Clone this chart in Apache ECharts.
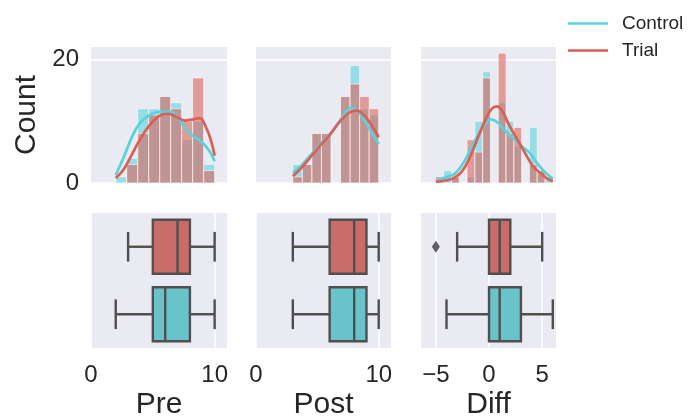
<!DOCTYPE html>
<html><head><meta charset="utf-8">
<script src="https://cdn.jsdelivr.net/npm/echarts@6/dist/echarts.min.js"></script>
<style>html,body{margin:0;padding:0;background:#fff}#c{width:689px;height:418px}</style>
</head><body><div id="c"></div>
<script>
// ---------- data ----------
const groups = ['Control', 'Trial'];
const panelNames = ['Pre', 'Post', 'Diff'];

const preEdges = [2, 2.889, 3.778, 4.667, 5.556, 6.444, 7.333, 8.222, 9.111, 10];
const preCountControl = [1, 4, 12, 12, 14, 13, 7, 10, 3];
const preCountTrial   = [0, 3, 8, 11, 14, 12, 10, 17, 2];

const postEdges = [3, 3.778, 4.556, 5.333, 6.111, 6.889, 7.667, 8.444, 9.222, 10];
const postCountControl = [3, 3, 8, 8, 0, 14, 19, 12, 11];
const postCountTrial   = [1, 3, 8, 8, 0, 14, 16, 14, 12];

const diffEdges = [-5, -4.267, -3.533, -2.8, -2.067, -1.333, -0.6, 0.133, 0.867, 1.6, 2.333, 3.067, 3.8, 4.533, 5.267, 6];
const diffCountControl = [0, 2, 1, 0, 1, 10, 18, 0, 13, 10, 6, 0, 9, 2, 1];
const diffCountTrial   = [1, 0, 1, 0, 7, 5, 17, 0, 21, 8, 9, 0, 3, 2, 0];

const preKdeControl = [[2.0,1.3],[2.61,4.0],[3.28,7.3],[3.95,9.7],[4.76,11.0],[5.56,11.5],[6.24,11.5],[6.91,10.9],[7.58,9.0],[8.25,7.6],[8.92,6.7],[9.6,5.1],[10.0,3.5]];
const preKdeTrial   = [[2.0,0.8],[2.61,2.1],[3.28,4.5],[3.95,7.0],[4.76,9.4],[5.56,10.9],[6.24,11.2],[6.91,10.7],[7.58,10.1],[8.25,10.3],[8.79,10.5],[9.33,8.9],[9.73,6.7],[10.0,4.4]];
const postKdeControl = [[3.0,1.6],[3.68,2.8],[4.49,4.6],[5.30,6.4],[6.10,8.1],[6.91,10.3],[7.72,12.1],[8.25,11.8],[8.79,10.3],[9.33,8.5],[10.0,6.3]];
const postKdeTrial   = [[3.0,1.1],[3.68,2.4],[4.49,4.3],[5.30,6.2],[6.10,8.0],[6.91,10.1],[7.72,11.5],[8.25,11.7],[8.79,11.0],[9.46,9.2],[10.0,7.4]];
const diffKdeControl = [[-5.0,0.3],[-4.15,0.9],[-3.37,1.3],[-2.74,2.4],[-2.11,4.2],[-1.32,6.9],[-0.53,9.1],[0.16,10.3],[0.72,9.9],[1.51,8.5],[2.30,7.2],[3.08,5.9],[3.87,4.8],[4.66,2.9],[5.44,1.45],[6.0,0.7]];
const diffKdeTrial   = [[-5.0,0.2],[-4.15,0.4],[-3.37,0.75],[-2.58,1.8],[-1.79,4.2],[-1.01,7.5],[-0.22,10.7],[0.25,12.0],[0.72,12.4],[1.19,11.8],[1.82,9.6],[2.61,7.2],[3.40,4.8],[4.18,2.6],[4.97,1.45],[5.44,0.75],[6.0,0.3]];

// box stats: [min whisker, Q1, median, Q3, max whisker]
const preBoxControl  = [2, 5, 6, 8, 10];
const preBoxTrial    = [3, 5, 7, 8, 10];
const postBoxControl = [3, 6, 8, 9, 10];
const postBoxTrial   = [3, 6, 8, 9, 10];
const diffBoxControl = [-4, 0, 1, 3, 6];
const diffBoxTrial   = [-3, 0, 1, 2, 5];
const diffOutliersTrial = [-5];

const xTicksPP = [0, 10];
const xTicksDiff = [-5, 0, 5];
const yTicksHist = [0, 20];

// ---------- style ----------
const FONT = 'Liberation Sans, Arial, sans-serif';
const TXT = '#262626';
const BG = '#EAEAF2';
const C_CTRL = '#57d3db', C_TRIAL = '#db5f57';
const BOX_CTRL = '#68c4ca', BOX_TRIAL = '#ca6d68';
const EDGE = '#4f4f4f';

const gridPos = [
  {left: 91, top: 47, width: 136, height: 136},
  {left: 256, top: 47, width: 135, height: 136},
  {left: 421, top: 47, width: 135, height: 136},
  {left: 91, top: 213, width: 136, height: 135},
  {left: 256, top: 213, width: 135, height: 135},
  {left: 421, top: 213, width: 135, height: 135}
];
const xRanges = [[0, 11], [0, 11], [-6.4, 6.3]];

function binsData(edges, counts) {
  return counts.map((c, i) => [edges[i], edges[i + 1], c]);
}
function histRender(color) {
  return function (params, api) {
    const c = api.value(2);
    if (!c) return null;
    const p0 = api.coord([api.value(0), 0]);
    const p1 = api.coord([api.value(1), c]);
    return {type: 'rect', shape: {x: p0[0], y: p1[1], width: p1[0] - p0[0], height: p0[1] - p1[1]},
      style: {fill: color, stroke: '#ffffff', lineWidth: 1, opacity: 0.57}};
  };
}
function boxRender(color) {
  return function (params, api) {
    const cat = api.value(0);
    const band = api.size([0, 1])[1];
    const half = band * 0.4, cap = band * 0.22;
    const p = [1, 2, 3, 4, 5].map(k => api.coord([api.value(k), cat]));
    const y = p[0][1];
    const ls = {stroke: EDGE, lineWidth: 2.4};
    return {type: 'group', children: [
      {type: 'line', shape: {x1: p[0][0], y1: y, x2: p[1][0], y2: y}, style: ls},
      {type: 'line', shape: {x1: p[3][0], y1: y, x2: p[4][0], y2: y}, style: ls},
      {type: 'line', shape: {x1: p[0][0], y1: y - cap, x2: p[0][0], y2: y + cap}, style: ls},
      {type: 'line', shape: {x1: p[4][0], y1: y - cap, x2: p[4][0], y2: y + cap}, style: ls},
      {type: 'rect', shape: {x: p[1][0], y: y - half, width: p[3][0] - p[1][0], height: 2 * half},
        style: {fill: color, stroke: EDGE, lineWidth: 2.4}},
      {type: 'line', shape: {x1: p[2][0], y1: y - half, x2: p[2][0], y2: y + half}, style: ls}
    ]};
  };
}
const minusFmt = v => String(v).replace('-', '\u2212');

const grids = gridPos.map(g => Object.assign({show: true, backgroundColor: BG, borderWidth: 0, containLabel: false, outerBoundsMode: 'none'}, g));

const xAxis = [];
const yAxis = [];
for (let i = 0; i < 6; i++) {
  const col = i % 3, bottom = i >= 3;
  const ticks = col === 2 ? xTicksDiff : xTicksPP;
  xAxis.push({
    type: 'value', gridIndex: i, min: xRanges[col][0], max: xRanges[col][1],
    axisLine: {show: false}, axisTick: {show: false, customValues: ticks},
    axisLabel: {show: bottom, customValues: ticks, fontSize: 24, color: TXT, fontFamily: FONT, margin: 15, formatter: minusFmt},
    splitLine: {show: bottom, lineStyle: {color: '#ffffff', width: 1.5}},
    name: bottom ? panelNames[col] : '', nameLocation: 'middle', nameGap: 42,
    nameTextStyle: {fontSize: 30, color: TXT, fontFamily: FONT}
  });
  if (!bottom) {
    yAxis.push({
      type: 'value', gridIndex: i, min: 0, max: 22,
      axisLine: {show: false}, axisTick: {show: false, customValues: yTicksHist},
      axisLabel: {show: col === 0, customValues: yTicksHist, fontSize: 24, color: TXT, fontFamily: FONT, margin: 12},
      splitLine: {show: true, lineStyle: {color: '#ffffff', width: 1.5}},
      name: col === 0 ? 'Count' : '', nameLocation: 'middle', nameGap: 49, nameRotate: 90,
      nameTextStyle: {fontSize: 30, color: TXT, fontFamily: FONT}
    });
  } else {
    yAxis.push({
      type: 'category', gridIndex: i, data: groups,
      axisLine: {show: false}, axisTick: {show: false}, axisLabel: {show: false}, splitLine: {show: false}
    });
  }
}

const histSets = [
  [preEdges, preCountControl, preCountTrial, preKdeControl, preKdeTrial],
  [postEdges, postCountControl, postCountTrial, postKdeControl, postKdeTrial],
  [diffEdges, diffCountControl, diffCountTrial, diffKdeControl, diffKdeTrial]
];
const boxSets = [
  [preBoxControl, preBoxTrial],
  [postBoxControl, postBoxTrial],
  [diffBoxControl, diffBoxTrial]
];

const series = [];
histSets.forEach((s, col) => {
  series.push({type: 'custom', name: 'Control hist', xAxisIndex: col, yAxisIndex: col, renderItem: histRender(C_CTRL),
    encode: {x: [0, 1], y: 2}, data: binsData(s[0], s[1]), silent: true, z: 2});
  series.push({type: 'custom', name: 'Trial hist', xAxisIndex: col, yAxisIndex: col, renderItem: histRender(C_TRIAL),
    encode: {x: [0, 1], y: 2}, data: binsData(s[0], s[2]), silent: true, z: 3});
  series.push({type: 'line', name: 'Control', xAxisIndex: col, yAxisIndex: col, data: s[3], smooth: 0.4,
    showSymbol: false, symbol: 'none', color: C_CTRL, lineStyle: {color: C_CTRL, width: 2.7}, z: 4, silent: true});
  series.push({type: 'line', name: 'Trial', xAxisIndex: col, yAxisIndex: col, data: s[4], smooth: 0.4,
    showSymbol: false, symbol: 'none', color: C_TRIAL, lineStyle: {color: C_TRIAL, width: 2.7}, z: 5, silent: true});
});
boxSets.forEach((b, col) => {
  const gi = col + 3;
  series.push({type: 'custom', name: 'Control box', xAxisIndex: gi, yAxisIndex: gi, renderItem: boxRender(BOX_CTRL),
    encode: {x: [1, 2, 3, 4, 5], y: 0}, data: [[0].concat(b[0])], silent: true});
  series.push({type: 'custom', name: 'Trial box', xAxisIndex: gi, yAxisIndex: gi, renderItem: boxRender(BOX_TRIAL),
    encode: {x: [1, 2, 3, 4, 5], y: 0}, data: [[1].concat(b[1])], silent: true});
});
series.push({type: 'scatter', name: 'Trial outliers', xAxisIndex: 5, yAxisIndex: 5, symbol: 'diamond', symbolSize: [8, 12],
  itemStyle: {color: '#3a3a3a'}, data: diffOutliersTrial.map(v => [v, 1]), silent: true});

const chart = echarts.init(document.getElementById('c'), null, {renderer: 'canvas'});
chart.setOption({
  animation: false,
  backgroundColor: '#ffffff',
  grid: grids, xAxis: xAxis, yAxis: yAxis,
  legend: {
    data: [{name: 'Control', icon: 'rect'}, {name: 'Trial', icon: 'rect'}],
    orient: 'vertical', left: 563, top: 9, itemWidth: 40, itemHeight: 2.5, itemGap: 8,
    selectedMode: false,
    textStyle: {fontSize: 19, color: TXT, fontFamily: FONT, padding: [0, 0, 0, 9]}
  },
  series: series
});
</script>
</body></html>
